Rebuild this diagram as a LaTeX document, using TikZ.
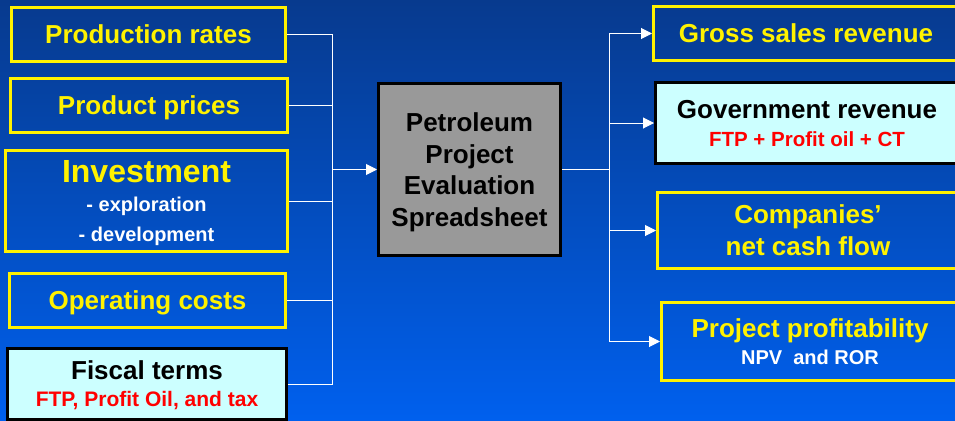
\documentclass[tikz,border=0pt]{standalone}
\usepackage{fontspec}
\setmainfont{Liberation Sans}
\usepackage{tikz}
\definecolor{bgtop}{RGB}{7, 58, 142}
\definecolor{bgbot}{RGB}{0, 96, 238}
\definecolor{cc}{RGB}{204, 255, 255}
\definecolor{gg}{RGB}{153, 153, 153}
\usetikzlibrary{arrows.meta}
\tikzset{
  ybox/.style={rectangle, draw=yellow, line width=3pt, text=yellow, align=center, inner sep=0pt, text depth=0pt},
  kbox/.style={rectangle, draw=black, fill=cc, line width=3pt, text=black, align=center, inner sep=0pt, text depth=0pt},
  wire/.style={line width=1pt, color=white},
  arr/.style={wire, -{Triangle[length=11pt, width=11pt]}}
}

\begin{document}
\begin{tikzpicture}
\useasboundingbox (0pt, 0pt) rectangle (955pt, -420pt);
\shade [top color=bgtop, bottom color=bgbot] (0pt, 0pt) rectangle (955pt, -420pt);
\node (rates) [ybox, minimum width=274pt, minimum height=54pt, font=\bfseries\fontsize{26}{31}\selectfont] at (148.5pt, -34.5pt) {Production rates};
\node (prices) [ybox, minimum width=277pt, minimum height=54pt, font=\bfseries\fontsize{26}{31}\selectfont] at (149pt, -105.5pt) {Product prices};
\node (invest) [ybox, minimum width=282pt, minimum height=101pt, font=\bfseries\fontsize{20}{30}\selectfont] at (146.5pt, -201pt) {{\fontsize{32}{32}\selectfont Investment}\\[-1pt] \textcolor{white}{- exploration}\\ \textcolor{white}{- development}};
\node (opcost) [ybox, minimum width=276pt, minimum height=54pt, font=\bfseries\fontsize{26}{31}\selectfont] at (147.5pt, -300.5pt) {Operating costs};
\node (fiscal) [kbox, text depth=-4pt, minimum width=279pt, minimum height=71pt, font=\bfseries\fontsize{21}{26}\selectfont] at (147pt, -384pt) {{\fontsize{26}{26}\selectfont Fiscal terms}\\[1pt] \textcolor{red}{FTP, Profit Oil, and tax}};
\node (sheet) [rectangle, draw=black, fill=gg, line width=3pt, align=center, inner sep=0pt, text depth=0pt, minimum width=182pt, minimum height=172pt, font=\bfseries\fontsize{26}{31.7}\selectfont] at (469.5pt, -169.5pt) {Petroleum\\ Project\\ Evaluation\\ Spreadsheet};
\node (gross) [ybox, minimum width=305pt, minimum height=54pt, font=\bfseries\fontsize{26}{31}\selectfont] at (806pt, -33.5pt) {Gross sales revenue};
\node (govrev) [kbox, text depth=-4pt, minimum width=303pt, minimum height=81pt, font=\bfseries\fontsize{20.5}{28}\selectfont] at (807pt, -123pt) {{\fontsize{26}{26}\selectfont Government revenue}\\ \textcolor{red}{FTP + Profit oil + CT}};
\node (cash) [ybox, minimum width=301pt, minimum height=76pt, font=\bfseries\fontsize{26}{32}\selectfont] at (808pt, -230.5pt) {Companies'\\ net cash flow};
\node (profit) [ybox, text depth=-4pt, minimum width=297pt, minimum height=78pt, font=\bfseries\fontsize{20}{27}\selectfont] at (810pt, -341.5pt) {{\fontsize{26}{26}\selectfont Project profitability}\\ \textcolor{white}{NPV\ \ and ROR}};
\coordinate (lbus) at (332pt, -169.5pt);
\coordinate (rbus) at (609pt, -169.5pt);
\draw [wire] (rates.east) -| (lbus);
\draw [wire] (prices.east) -| (lbus);
\draw [wire] (invest.east) -| (lbus);
\draw [wire] (opcost.east) -| (lbus);
\draw [wire] (fiscal.east) -| (lbus);
\draw [arr] (lbus) -- (sheet.west);
\draw [wire] (sheet.east) -- (rbus);
\draw [arr] (rbus) |- (gross.west);
\draw [arr] (rbus) |- (govrev.west);
\draw [arr] (rbus) |- (cash.west);
\draw [arr] (rbus) |- (profit.west);
\end{tikzpicture}
\end{document}
